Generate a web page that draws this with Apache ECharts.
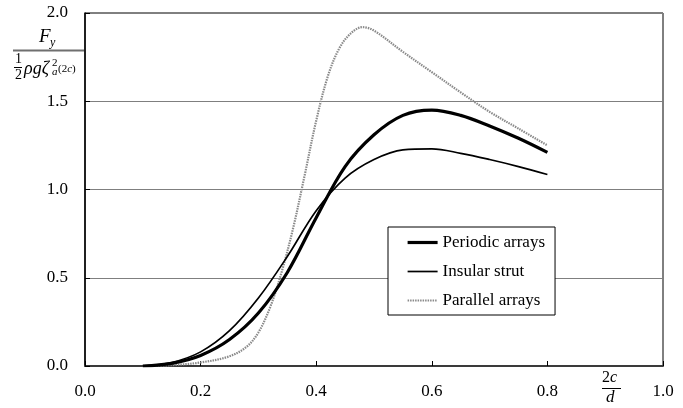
<!DOCTYPE html>
<html>
<head>
<meta charset="utf-8">
<script src="https://cdn.jsdelivr.net/npm/echarts@6/dist/echarts.min.js"></script>
<style>
html,body{margin:0;padding:0;background:#fff;}
#chart{width:683px;height:408px;}
</style>
</head>
<body>
<div id="chart"></div>
<script>
// ---- data ----
var xTicks = ['0.0', '0.2', '0.4', '0.6', '0.8', '1.0'];
var yTicks = ['0.0', '0.5', '1.0', '1.5', '2.0'];
var seriesNames = ['Periodic arrays', 'Insular strut', 'Parallel arrays'];

var periodicX = [0.10, 0.15, 0.20, 0.25, 0.30, 0.35, 0.40, 0.45, 0.50, 0.55, 0.60, 0.65, 0.70, 0.75, 0.80];
var periodicY = [0.00, 0.015, 0.06, 0.15, 0.30, 0.53, 0.84, 1.13, 1.31, 1.42, 1.45, 1.42, 1.36, 1.29, 1.21];

var insularX = [0.10, 0.15, 0.20, 0.25, 0.30, 0.35, 0.40, 0.45, 0.50, 0.55, 0.60, 0.65, 0.70, 0.75, 0.80];
var insularY = [0.00, 0.02, 0.08, 0.20, 0.385, 0.62, 0.88, 1.065, 1.17, 1.225, 1.23, 1.205, 1.17, 1.13, 1.085];

var parallelX = [0.10, 0.15, 0.20, 0.25, 0.28, 0.30, 0.32, 0.34, 0.36, 0.38, 0.40, 0.42, 0.44, 0.46, 0.48, 0.50, 0.55, 0.60, 0.65, 0.70, 0.75, 0.80];
var parallelY = [0.00, 0.005, 0.02, 0.055, 0.11, 0.19, 0.33, 0.53, 0.78, 1.08, 1.39, 1.64, 1.80, 1.885, 1.92, 1.90, 1.78, 1.665, 1.55, 1.44, 1.345, 1.25];

function pairs(xs, ys) { return xs.map(function (x, i) { return [x, ys[i]]; }); }

var FONT = '"Liberation Serif", "Times New Roman", serif';
var chart = echarts.init(document.getElementById('chart'));

var lineStyles = [
  { color: '#000', width: 3.2 },
  { color: '#000', width: 1.7 },
  { color: '#8a8a8a', width: 2.2, type: [1.5, 1] }
];

chart.setOption({
  animation: false,
  backgroundColor: '#fff',
  grid: {
    left: 85, top: 13, width: 578, height: 353,
    show: true, borderColor: '#000', borderWidth: 1, backgroundColor: 'transparent'
  },
  xAxis: {
    type: 'value', min: 0, max: 1, interval: 0.2,
    axisLine: { show: true, lineStyle: { color: '#3a3a3a', width: 2 } },
    axisTick: { show: true, inside: true, length: 5, lineStyle: { color: '#000' } },
    splitLine: { show: false },
    axisLabel: {
      margin: 17, color: '#000', fontFamily: FONT, fontSize: 17,
      formatter: function (v) { return xTicks[Math.round(v / 0.2)]; }
    }
  },
  yAxis: {
    type: 'value', min: 0, max: 2, interval: 0.5,
    axisLine: { show: true, lineStyle: { color: '#000', width: 1.5 } },
    axisTick: { show: true, inside: true, length: 5, lineStyle: { color: '#000' } },
    splitLine: { show: true, lineStyle: { color: '#7f7f7f', width: 1 } },
    axisLabel: {
      margin: 17, color: '#000', fontFamily: FONT, fontSize: 17,
      formatter: function (v) { return yTicks[Math.round(v / 0.5)]; }
    }
  },
  legend: {
    orient: 'vertical',
    left: 388, top: 227,
    width: 165,
    backgroundColor: '#fff',
    borderColor: '#000', borderWidth: 1, borderRadius: 0,
    padding: [7, 10, 6, 18],
    itemWidth: 30, itemHeight: 14, itemGap: 12,
    itemStyle: { opacity: 0 },
    textStyle: { color: '#000', fontFamily: FONT, fontSize: 17 },
    data: seriesNames.map(function (n, i) {
      return { name: n, lineStyle: lineStyles[i], itemStyle: { opacity: 0 } };
    })
  },
  series: [
    {
      name: seriesNames[0], type: 'line', smooth: 0.35, symbol: 'none', z: 4,
      itemStyle: { color: '#000' },
      lineStyle: lineStyles[0],
      data: pairs(periodicX, periodicY)
    },
    {
      name: seriesNames[1], type: 'line', smooth: 0.35, symbol: 'none', z: 3,
      itemStyle: { color: '#000' },
      lineStyle: lineStyles[1],
      data: pairs(insularX, insularY)
    },
    {
      name: seriesNames[2], type: 'line', smooth: 0.35, symbol: 'none', z: 2,
      itemStyle: { color: '#8a8a8a' },
      lineStyle: lineStyles[2],
      data: pairs(parallelX, parallelY)
    }
  ],
  graphic: [
    // y-axis title: F_y / (1/2 rho g zeta_a^2 (2c))
    { type: 'text', left: 39, top: 27, style: { text: 'F', font: 'italic 19px ' + FONT, fill: '#000' } },
    { type: 'text', left: 50, top: 37, style: { text: 'y', font: 'italic 12px ' + FONT, fill: '#000' } },
    { type: 'line', shape: { x1: 13, y1: 50.5, x2: 85, y2: 50.5 }, style: { stroke: '#6f6f6f', lineWidth: 2 } },
    { type: 'text', left: 15, top: 52, style: { text: '1', font: '14px ' + FONT, fill: '#000' } },
    { type: 'line', shape: { x1: 14, y1: 67.5, x2: 22, y2: 67.5 }, style: { stroke: '#000', lineWidth: 1 } },
    { type: 'text', left: 15, top: 68, style: { text: '2', font: '14px ' + FONT, fill: '#000' } },
    { type: 'text', left: 24, top: 60, style: { text: 'ρgζ', font: 'italic 18px ' + FONT, fill: '#000' } },
    { type: 'text', left: 52, top: 58, style: { text: '2', font: '11px ' + FONT, fill: '#000' } },
    { type: 'text', left: 52, top: 67, style: { text: 'a', font: 'italic 11px ' + FONT, fill: '#000' } },
    { type: 'text', left: 58, top: 64, style: {
        text: '{n|(2}{i|c}{n|)}',
        rich: { n: { font: '11px ' + FONT, fill: '#000' }, i: { font: 'italic 11px ' + FONT, fill: '#000' } }
    } },
    // x-axis title: 2c / d
    { type: 'text', left: 602, top: 370, style: {
        text: '{n|2}{i|c}',
        rich: { n: { font: '16px ' + FONT, fill: '#000' }, i: { font: 'italic 16px ' + FONT, fill: '#000' } }
    } },
    { type: 'line', shape: { x1: 602, y1: 388.5, x2: 621, y2: 388.5 }, style: { stroke: '#000', lineWidth: 1 } },
    { type: 'text', left: 606, top: 389, style: { text: 'd', font: 'italic 17px ' + FONT, fill: '#000' } }
  ]
});
</script>
</body>
</html>
